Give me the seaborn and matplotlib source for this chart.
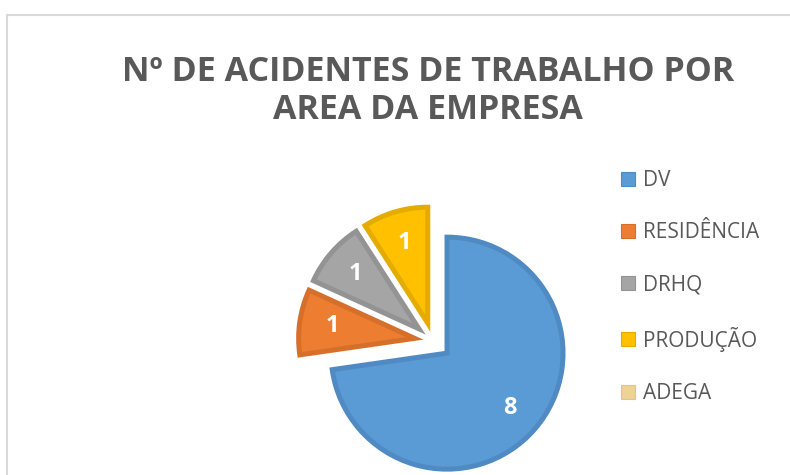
import matplotlib
matplotlib.use("Agg")
import numpy as np
import matplotlib.pyplot as plt
import seaborn as sns
from matplotlib.patches import Patch, Rectangle

areas = ["DV", "RESIDÊNCIA", "DRHQ", "PRODUÇÃO", "ADEGA"]
acidentes = [8, 1, 1, 1, 0]
cores = ["#5B9BD5", "#ED7D31", "#A5A5A5", "#FFC000", "#EDD394"]
bordas = ["#4F8AC3", "#D66F2A", "#939393", "#E5AC00", "#E2C680"]

sns.set_theme(style="white")
plt.rcParams["font.family"] = ["Open Sans", "DejaVu Sans"]

fig = plt.figure(figsize=(7.9, 4.75), dpi=100)

# moldura do grafico (cortada a direita e em baixo)
fig.patches.append(Rectangle((7 / 790, -0.1), 1.2, 1 - 15 / 475 + 0.1,
                             transform=fig.transFigure, fill=False,
                             edgecolor="#D9D9D9", linewidth=1.5))

ax = fig.add_axes([259 / 790, -40 / 475, 348 / 790, 348 / 475])

vals = [v for v in acidentes if v > 0]
cols = [c for c, v in zip(cores, acidentes) if v > 0]
edges = [c for c, v in zip(bordas, acidentes) if v > 0]

wedges, texts, autotexts = ax.pie(
    vals,
    colors=cols,
    startangle=90,
    counterclock=False,
    explode=[0.16] * len(vals),
    autopct=lambda p: f"{p * sum(vals) / 100:.0f}",
    pctdistance=0.72,
    wedgeprops=dict(linewidth=3.6, edgecolor="white"),
    textprops=dict(color="white", fontsize=17, fontweight="bold"),
)
for w, e in zip(wedges, edges):
    w.set_edgecolor(e)
    w.set_clip_on(False)

ax.set_xlim(-1.5, 1.5)
ax.set_ylim(-1.5, 1.5)
ax.set_aspect("equal")
ax.axis("off")

fig.text(428 / 790, 1 - 72 / 475, "Nº DE ACIDENTES DE TRABALHO POR",
         ha="center", va="center", fontsize=24.5, fontweight="bold", color="#595959")
fig.text(428 / 790, 1 - 110 / 475, "AREA DA EMPRESA",
         ha="center", va="center", fontsize=24.5, fontweight="bold", color="#595959")

handles = [Patch(facecolor=c, edgecolor=e, linewidth=0.8) for c, e in zip(cores, bordas)]
fig.legend(handles, areas, loc="upper left", bbox_to_anchor=(621 / 790, 1 - 170 / 475),
           frameon=False, fontsize=15, labelcolor="#595959",
           handlelength=0.65, handleheight=0.65, handletextpad=0.4,
           labelspacing=1.5, borderpad=0, borderaxespad=0)

fig.savefig("out.png", dpi=100)
